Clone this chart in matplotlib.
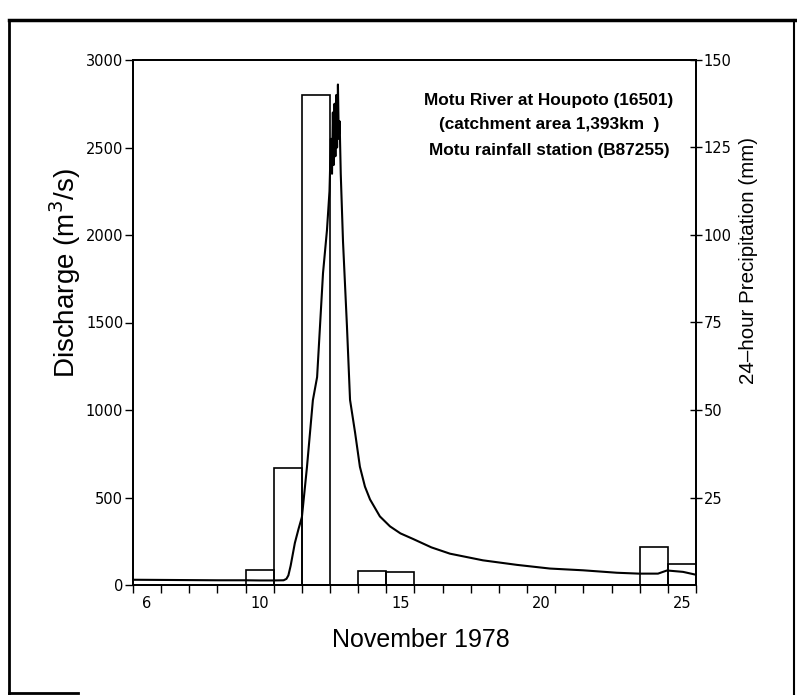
import matplotlib
matplotlib.use("Agg")
import matplotlib.pyplot as plt
from matplotlib.lines import Line2D

# ---- data ----
q_days = [6.0, 7.0, 8.0, 9.0, 10.0, 10.5, 11.0, 11.35, 11.45, 11.52, 11.6, 11.75,
          11.88, 12.0, 12.18, 12.39, 12.54, 12.75, 12.89, 12.98, 13.03, 13.07, 13.1,
          13.13, 13.16, 13.19, 13.22, 13.25, 13.28, 13.31, 13.34, 13.38,
          13.46, 13.6, 13.71, 13.89, 14.06, 14.24, 14.42, 14.77, 15.13, 15.5, 15.95,
          16.6, 17.26, 18.43, 19.64, 20.81, 21.99, 23.19, 23.97, 24.65, 24.97, 25.54, 25.96]
discharge = [30, 29, 28, 27, 27, 26, 26, 27, 35, 55, 110, 240,
             320, 388, 674, 1056, 1188, 1782, 2027, 2250, 2550, 2350, 2700,
             2400, 2750, 2450, 2800, 2500, 2860, 2550, 2650, 2350,
             1964, 1480, 1058, 870, 676, 562, 489, 392, 335, 295, 263,
             215, 179, 141, 115, 94, 84, 70, 65, 65, 83, 75, 60]

rain_days = [10, 11, 12, 14, 15, 24, 25]
rain_mm = [4.3, 33.5, 140, 4.1, 3.6, 10.8, 6.0]

q_ticks = [0, 500, 1000, 1500, 2000, 2500, 3000]
p_ticks = [25, 50, 75, 100, 125, 150]
day_labels = [6, 10, 15, 20, 25]

annot_lines = ["Motu River at Houpoto (16501)",
               "(catchment area 1,393km  )",
               "Motu rainfall station (B87255)"]

# ---- figure ----
W, H = 797, 695
fig = plt.figure(figsize=(W / 100, H / 100), dpi=100)
fig.patch.set_facecolor("white")

L, R, T, B = 133, 696, 60, 585
ax = fig.add_axes([L / W, 1 - B / H, (R - L) / W, (B - T) / H])
ax2 = ax.twinx()

tickfont = "DejaVu Sans"
labfont = "Liberation Sans"

ax.plot(q_days, discharge, color="black", lw=1.5, zorder=3)
ax.set_xlim(6, 26)
ax.set_ylim(0, 3000)
ax.set_yticks(q_ticks)
ax.set_yticklabels([str(v) for v in q_ticks], fontfamily=tickfont, fontsize=10.5)
ax.tick_params(axis="y", direction="out", length=6, width=1, pad=1)

ax.set_xticks(list(range(6, 27)))
ax.set_xticklabels([])
ax.tick_params(axis="x", which="major", direction="out", length=6, width=1)
ax.set_xticks([d + 0.5 for d in day_labels], minor=True)
ax.set_xticklabels([str(d) for d in day_labels], minor=True,
                   fontfamily=tickfont, fontsize=10.5)
ax.tick_params(axis="x", which="minor", length=0, pad=8)

ax2.bar(rain_days, rain_mm, width=1.0, align="edge", facecolor="none",
        edgecolor="black", linewidth=1.2, zorder=2)
ax2.set_ylim(0, 150)
ax2.set_yticks(p_ticks)
ax2.set_yticklabels([str(v) for v in p_ticks], fontfamily=tickfont, fontsize=10.5)
ax2.tick_params(axis="y", direction="inout", length=9, width=1, pad=1)

for a in (ax, ax2):
    for s in a.spines.values():
        s.set_linewidth(1.3)
        s.set_color("black")

# annotation block
for txt, yp in zip(annot_lines, [100, 125, 150]):
    fig.text(549 / W, 1 - yp / H, txt, ha="center", va="center",
             fontfamily=labfont, fontweight="bold", fontsize=12.4)

# axis labels
fig.text(65 / W, 1 - 273 / H, "Discharge (m$^3$/s)", rotation=90,
         ha="center", va="center", fontfamily=labfont, fontsize=20)
fig.text(748 / W, 1 - 261 / H, "24\u2013hour Precipitation (mm)", rotation=90,
         ha="center", va="center", fontfamily=labfont, fontsize=14.8)
fig.text(421 / W, 1 - 640 / H, "November 1978", ha="center", va="center",
         fontfamily=labfont, fontsize=18)

# outer page frame
def fline(x0, y0, x1, y1, lw):
    fig.add_artist(Line2D([x0 / W, x1 / W], [1 - y0 / H, 1 - y1 / H],
                          transform=fig.transFigure, color="black", lw=lw))

fline(9, 20, 797, 20, 2.5)
fline(9, 20, 9, 694, 2.0)
fline(794, 20, 794, 694, 1.5)
fline(9, 693, 78, 693, 2.0)

fig.savefig("out.png", dpi=100, facecolor="white")
